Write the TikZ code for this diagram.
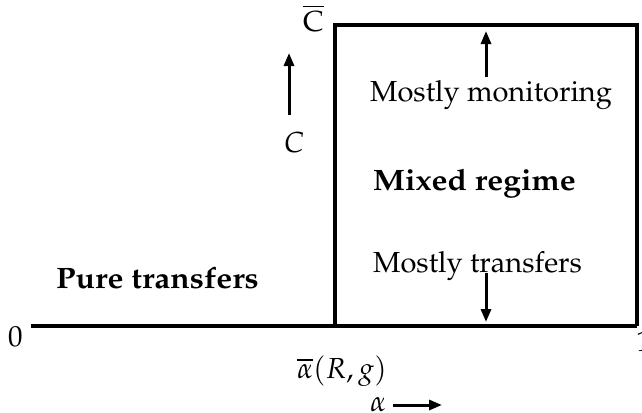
\documentclass[tikz,border=0pt]{standalone}
\usepackage[T1]{fontenc}
\usepackage{mathpazo}
\usetikzlibrary{arrows.meta}
\tikzset{
  axis/.style={line width=3.6bp},
  arr/.style={line width=3bp,-{Triangle[length=13bp,width=10bp]}},
  lbl/.style={inner sep=0pt,anchor=base west,font=\fontsize{29bp}{35bp}\selectfont},
  blbl/.style={lbl,font=\fontsize{29.5bp}{35bp}\selectfont\bfseries}
}
\newcommand{\widebold}[1]{\scalebox{1.08}[1]{#1}}
\begin{document}
\begin{tikzpicture}[x=1bp,y=-1bp]
\useasboundingbox (0,0) rectangle (642,412);
\coordinate (O) at (31,326);
\coordinate (A) at (335,326);
\coordinate (E) at (637,326);
\coordinate (TL) at (335,25);
\coordinate (TR) at (637,25);
\draw[axis] (O) -- (E);
\draw[axis,line join=miter] (A) -- (TL) -- (TR) -- (E);
\node[lbl] (zero) at (8,346) {0};
\node[lbl] (one) at (636,351) {1};
\node[lbl] (abar) at (297,378) {$\overline{\alpha}(R,g)$};
\node[lbl] (alpha) at (370,411) {$\alpha$};
\coordinate (a1) at (393,405);
\coordinate (a2) at (442,405);
\draw[arr] (a1) -- (a2);
\node[lbl] (Cbar) at (303,31) {$\overline{\mathrm{C}}$};
\node[lbl] (C) at (284,152) {$C$};
\coordinate (c1) at (289,115);
\coordinate (c2) at (289,53);
\draw[arr] (c1) -- (c2);
\node[lbl] (mon) at (370,101) {Mostly monitoring};
\coordinate (m1) at (486,77);
\coordinate (m2) at (486,31);
\draw[arr] (m1) -- (m2);
\node[blbl] (mix) at (373,190) {\widebold{Mixed regime}};
\node[lbl] (tr) at (373,272) {Mostly transfers};
\coordinate (t1) at (486,273);
\coordinate (t2) at (486,322);
\draw[arr] (t1) -- (t2);
\node[blbl] (pure) at (56,288) {\widebold{Pure transfers}};
\end{tikzpicture}
\end{document}
